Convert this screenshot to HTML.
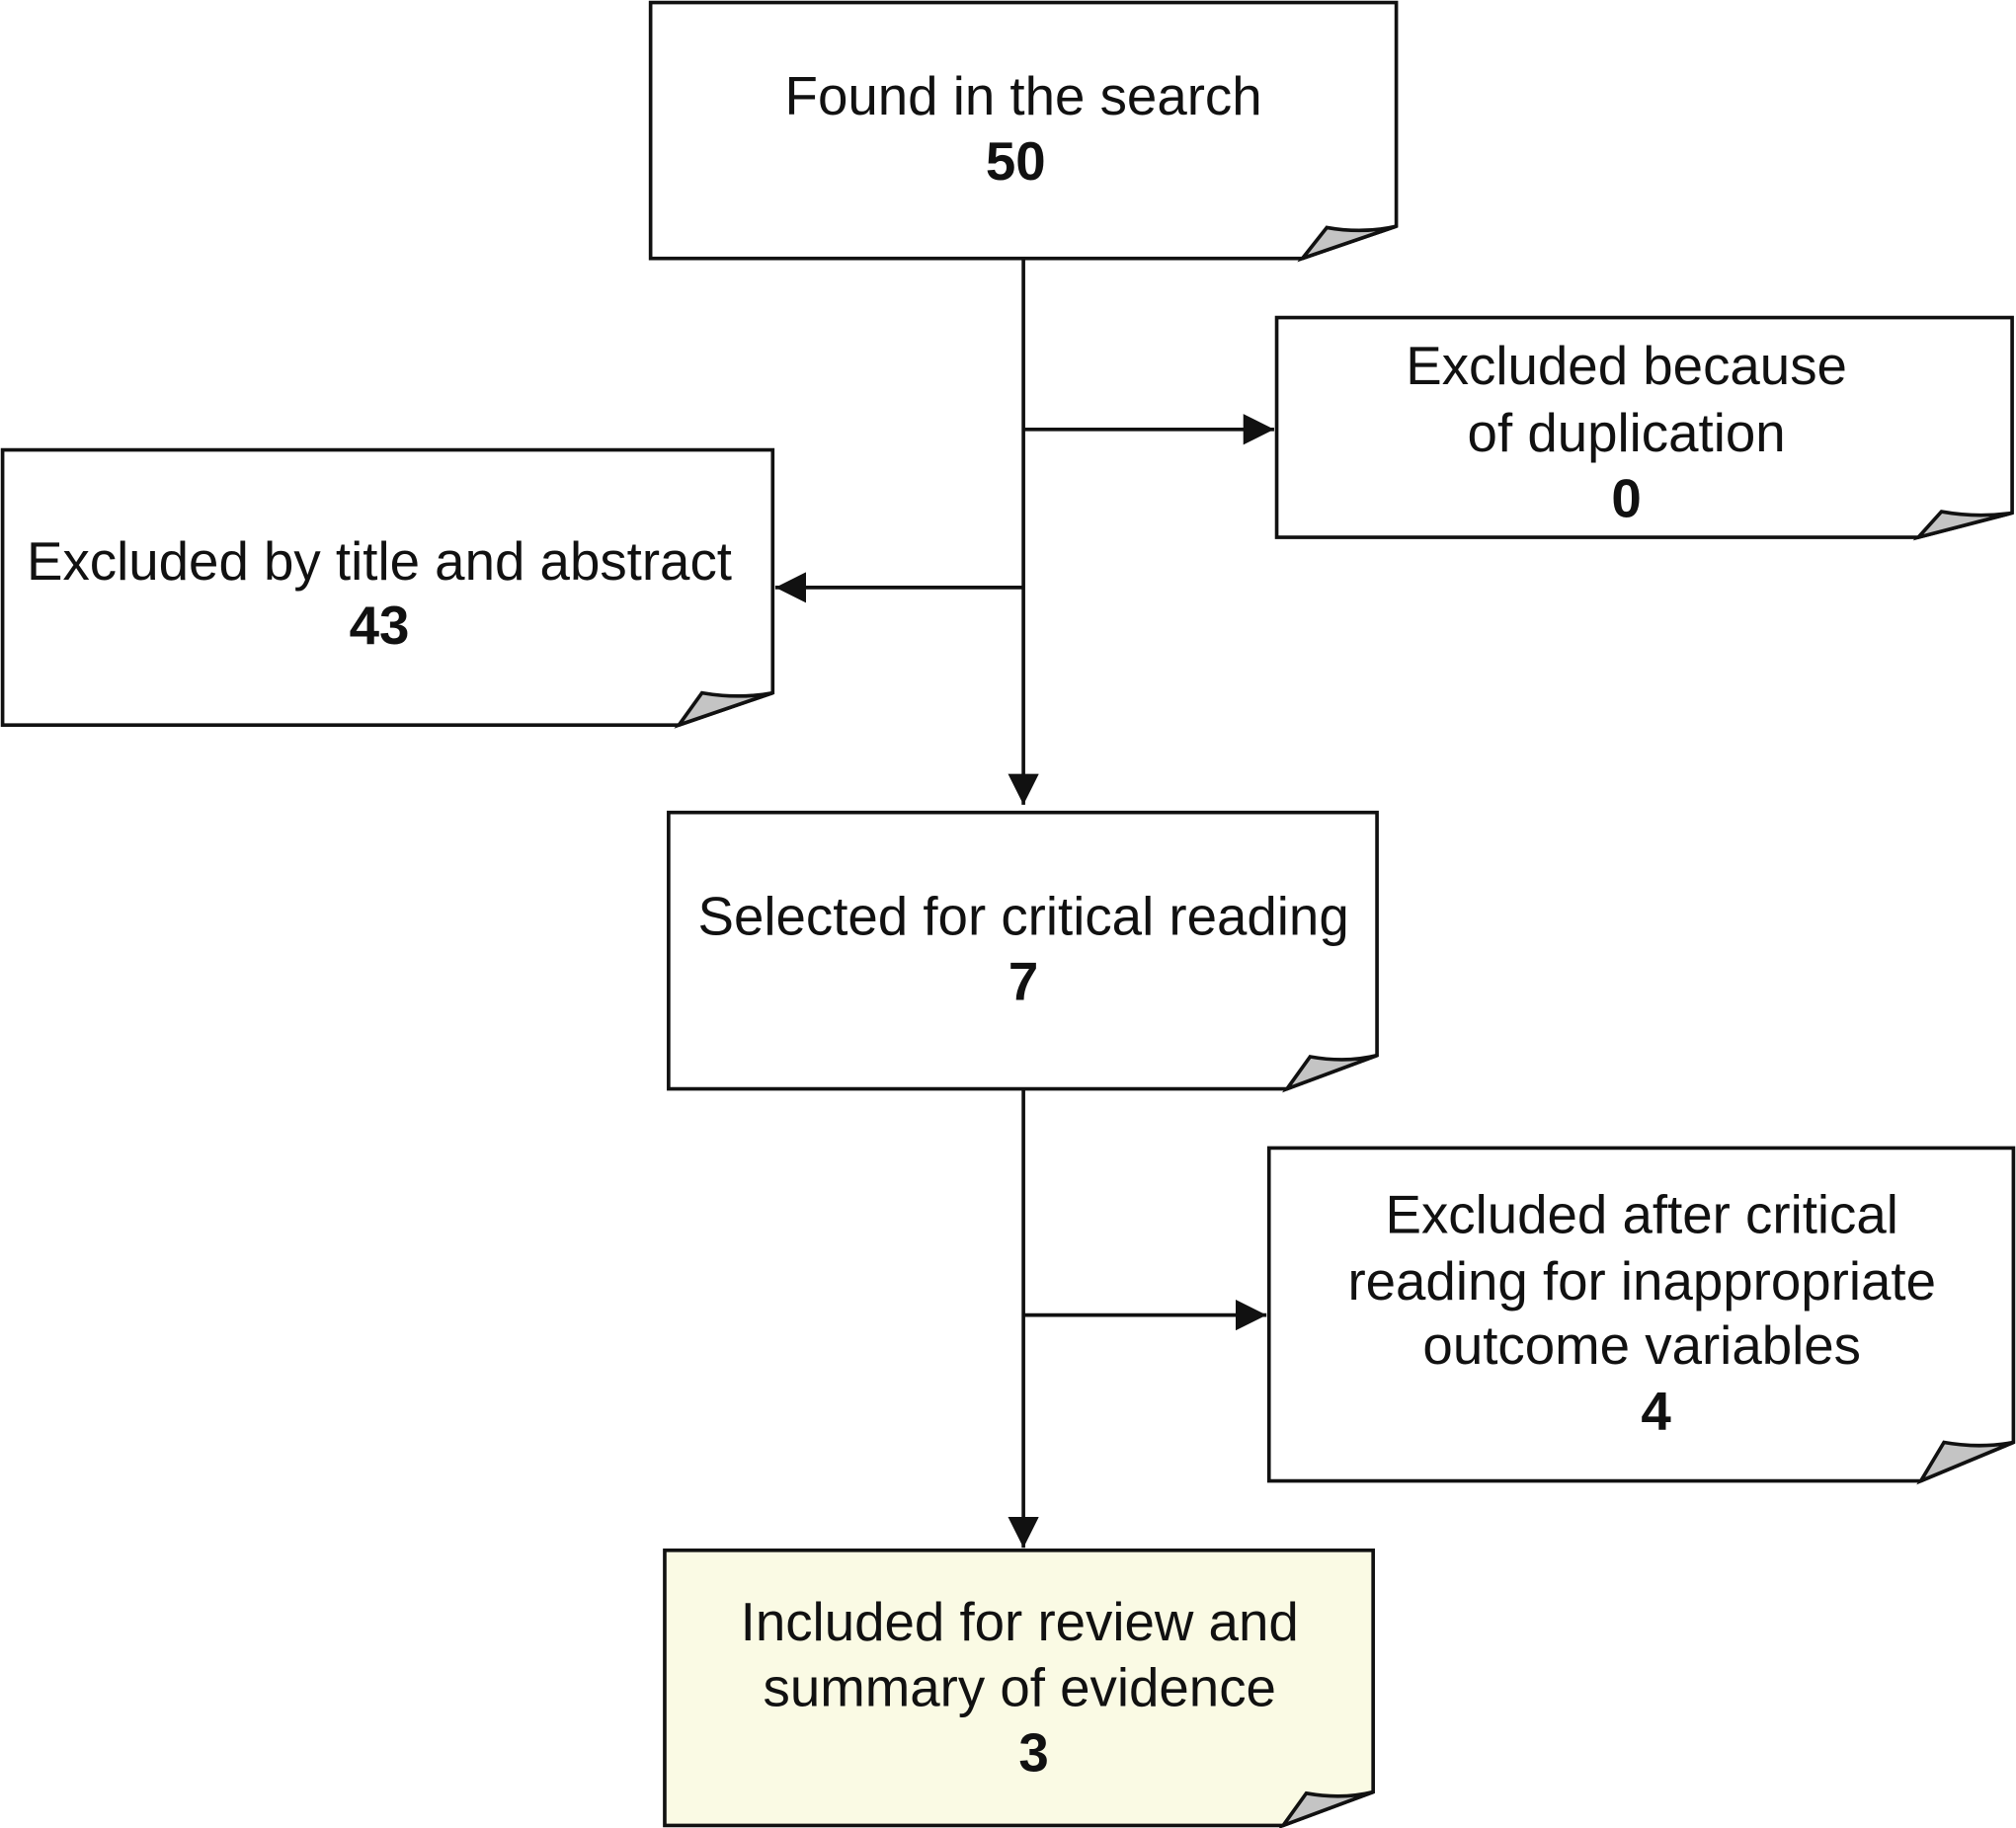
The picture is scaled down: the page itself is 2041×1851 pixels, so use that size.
<!DOCTYPE html>
<html><head><style>html,body{margin:0;padding:0;background:#fff}svg{display:block}</style></head><body>
<svg width="2041" height="1851" viewBox="0 0 1568 1422" preserveAspectRatio="none" xmlns="http://www.w3.org/2000/svg">
<defs>
<marker id="a" viewBox="0 0 10 10" refX="10" refY="5" markerWidth="24" markerHeight="24" markerUnits="userSpaceOnUse" orient="auto"><path d="M0,0 L10,5 L0,10 z" fill="#111"/></marker>
</defs>
<g stroke="#111" stroke-width="2.8" fill="none">
<line x1="796" y1="201" x2="796" y2="626" marker-end="url(#a)"/>
<line x1="796" y1="334" x2="991" y2="334" marker-end="url(#a)"/>
<line x1="796" y1="457" x2="603" y2="457" marker-end="url(#a)"/>
<line x1="796" y1="847" x2="796" y2="1204" marker-end="url(#a)"/>
<line x1="796" y1="1023" x2="985" y2="1023" marker-end="url(#a)"/>
</g>
<g stroke="#111" stroke-width="2.8" stroke-linejoin="miter">
<path d="M506,2 H1086 V176 L1013,201 H506 Z" fill="#fff"/><path d="M1013,201 L1032,177 Q1060,182 1086,176 Z" fill="#c4c4c4"/>
<path d="M993,247 H1565 V399 L1492,418 H993 Z" fill="#fff"/><path d="M1492,418 L1510,398 Q1538,403 1565,399 Z" fill="#c4c4c4"/>
<path d="M2,350 H601 V539 L528,564 H2 Z" fill="#fff"/><path d="M528,564 L546,539 Q575,544 601,539 Z" fill="#c4c4c4"/>
<path d="M520,632 H1071 V821 L1001,847 H520 Z" fill="#fff"/><path d="M1001,847 L1019,822 Q1047,827 1071,821 Z" fill="#c4c4c4"/>
<path d="M987,893 H1566 V1122 L1494,1152 H987 Z" fill="#fff"/><path d="M1494,1152 L1512,1122 Q1540,1127 1566,1122 Z" fill="#c4c4c4"/>
<path d="M517,1206 H1068 V1394 L998,1420 H517 Z" fill="#fafae4"/><path d="M998,1420 L1016,1395 Q1044,1400 1068,1394 Z" fill="#c4c4c4"/>
</g>
<g font-family="Liberation Sans, sans-serif" font-size="42" fill="#111" text-anchor="middle">
<text x="796" y="89">Found in the search</text>
<text x="790" y="140" font-weight="bold">50</text>
<text x="1265" y="299">Excluded because</text>
<text x="1265" y="351">of duplication</text>
<text x="1265" y="402" font-weight="bold">0</text>
<text x="295" y="451">Excluded by title and abstract</text>
<text x="295" y="501" font-weight="bold">43</text>
<text x="796" y="727">Selected for critical reading</text>
<text x="796" y="778" font-weight="bold">7</text>
<text x="1277" y="959">Excluded after critical</text>
<text x="1277" y="1011">reading for inappropriate</text>
<text x="1277" y="1061">outcome variables</text>
<text x="1288" y="1112" font-weight="bold">4</text>
<text x="793" y="1276">Included for review and</text>
<text x="793" y="1327">summary of evidence</text>
<text x="804" y="1378" font-weight="bold">3</text>
</g>
</svg>
</body></html>
